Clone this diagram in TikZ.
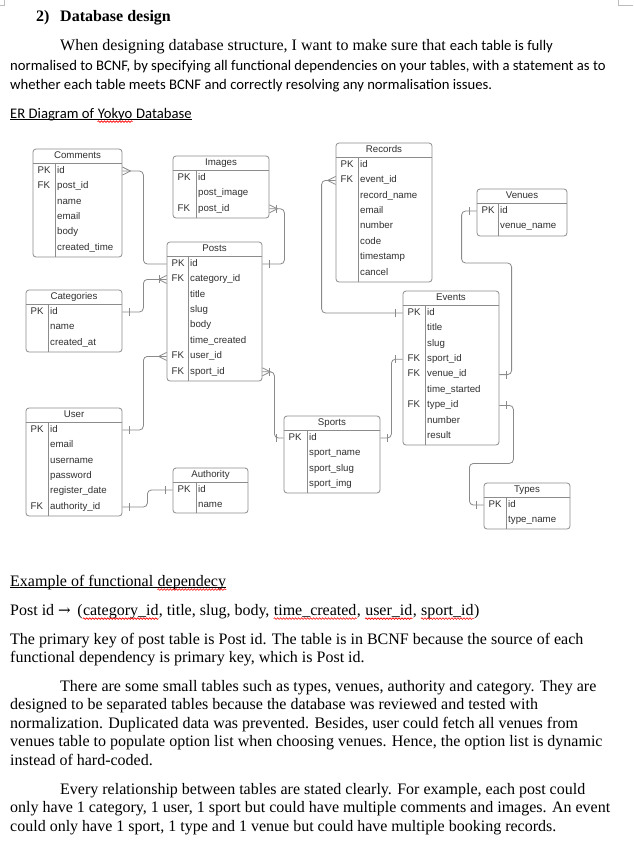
\documentclass[tikz,border=0pt]{standalone}
\usepackage{fontspec}
\setmainfont{Liberation Serif}
\newfontfamily\calibrifont{Carlito}
\newfontfamily\arialfont{Liberation Sans}
\newfontfamily\arrowfont{DejaVu Serif}
\usetikzlibrary{fit,decorations.pathmorphing}
\definecolor{boxgray}{HTML}{8C8C8C}
\definecolor{linegray}{HTML}{8A8A8A}
\definecolor{txtgray}{HTML}{303030}
\definecolor{markgray}{HTML}{BDBDBD}

\begin{document}
\begin{tikzpicture}
[x=1pt,y=-1pt,
  tableBox/.style={draw=boxgray,line width=0.8pt,rounded corners=3pt,inner sep=0pt},%
  tableLine/.style={draw=boxgray,line width=0.8pt},%
  titleText/.style={font=\arialfont\fontsize{9.7}{11}\selectfont,text=txtgray,inner sep=0pt,anchor=mid},%
  fieldText/.style={font=\arialfont\fontsize{9.7}{11}\selectfont,text=txtgray,inner sep=0pt,anchor=mid west},%
  relLine/.style={draw=linegray,line width=0.8pt,rounded corners=4pt},%
  bodyText/.style={font=\fontsize{16}{18.4}\selectfont,inner sep=0pt,anchor=base west},%
  wordText/.style={font=\calibrifont\fontsize{14.67}{17.6}\selectfont,inner sep=0pt,anchor=base west},%
  redWave/.style={draw=red,line width=0.6pt,decorate,decoration={snake,amplitude=0.8pt,segment length=3pt}},%
  crowFoot/.pic={\draw[draw=linegray,line width=0.8pt] (0,-4) -- (8,0) -- (0,4);},%
  oneBar/.pic={\draw[draw=linegray,line width=0.8pt] (7,-4) -- (7,4);}]
\fill[white] (0,0) rectangle (633,868);
\useasboundingbox (0,0) rectangle (633,868);
%% page corner marks
\draw[draw=markgray,line width=0.6pt] (0,5) -- (4,5) -- (4,0);
\draw[draw=markgray,line width=0.6pt] (633,5) -- (618,5) -- (618,0);
%% heading and intro
\node[bodyText,font=\bfseries\fontsize{16}{18.4}\selectfont] (headnum) at (36,21) {2)};
\node[bodyText,font=\bfseries\fontsize{16}{18.4}\selectfont] (heading) at (60,21) {Database design};
\node[bodyText] (intro1) at (60,50) {When designing database structure, I want to make sure that {\calibrifont\fontsize{14.67}{17.6}\selectfont each table is fully}};
\node[wordText] (intro2) at (10,70) {normalised to BCNF, by specifying all functional dependencies on your tables, with a statement as to};
\node[wordText] (intro3) at (10,89) {whether each table meets BCNF and correctly resolving any normalisation issues.};
\node[wordText] (ertitle) at (10,118) {ER Diagram of};
\node[wordText] (erword) at ([xshift=3.3pt]ertitle.base east) {Yokyo};
\node[wordText] (erend) at ([xshift=3.3pt]erword.base east) {Database};
\draw[line width=0.8pt] ([yshift=-1.8pt]ertitle.base west) -- ([yshift=-1.8pt]erend.base east);
\draw[redWave] ([yshift=-3.6pt]erword.base west) -- ([yshift=-3.6pt]erword.base east);
%% tables: name/left/top/right/separator/bottom/title/rows
\foreach \tname/\tleft/\ttop/\tright/\tsep/\tbot/\ttitle/\trows in {%
  comments/33/149/122/55/257/Comments/{PK/id,FK/post\_id,/name,/email,/body,/created\_time},%
  images/173/156/269/196/218/Images/{PK/id,/post\_image,FK/post\_id},%
  posts/167/242/262/188/381/Posts/{PK/id,FK/category\_id,/title,/slug,/body,/time\_created,FK/user\_id,FK/sport\_id},%
  records/336/143/432/358/282/Records/{PK/id,FK/event\_id,/record\_name,/email,/number,/code,/timestamp,/cancel},%
  venues/477/189/567/498/236/Venues/{PK/id,/venue\_name},%
  categories/26/290/122/48/352/Categories/{PK/id,/name,/created\_at},%
  events/403/291/499/425/445/Events/{PK/id,/title,/slug,FK/sport\_id,FK/venue\_id,/time\_started,FK/type\_id,/number,/result},%
  user/26/408/122/48/516/User/{PK/id,/email,/username,/password,/register\_date,FK/authority\_id},%
  authority/173/468/248/196/513/Authority/{PK/id,/name},%
  sports/284/416/380/307/493/Sports/{PK/id,/sport\_name,/sport\_slug,/sport\_img},%
  types/484/483/570/506/529/Types/{PK/id,/type\_name}}
{
  \node[tableBox,fit={(\tleft,\ttop) (\tright,\tbot)}] (\tname) {};
  \draw[tableLine] (\tleft,\ttop+14) -- (\tright,\ttop+14);
  \draw[tableLine] (\tsep,\ttop+14) -- (\tsep,\tbot);
  \node[titleText] (\tname-title) at ([yshift=-7.5pt]\tname.north) {\ttitle};
  \foreach \k/\f [count=\i] in \trows
  {
    \node[fieldText] (\tname-k\i) at (\tleft+4.5,\ttop+6.6+15.4*\i) {\k};
    \node[fieldText] (\tname-\i) at (\tsep+2,\ttop+6.6+15.4*\i) {\f};
  }
}
%% relationships
\draw[relLine] (comments.east |- comments-1.mid) -- ++(21,0) |- (posts.west |- posts-1.mid);
\pic at (comments.east |- comments-1.mid) {crowFoot};
\draw[relLine] (images.east |- images-3.mid) -- ++(15,0) |- (posts.east |- posts-1.mid);
\pic at (images.east |- images-3.mid) {crowFoot};
\pic at (images.east |- images-3.mid) {oneBar};
\pic at (posts.east |- posts-1.mid) {oneBar};
\draw[relLine] (categories.east |- categories-1.mid) -- ++(21,0) |- (posts.west |- posts-2.mid);
\pic at (categories.east |- categories-1.mid) {oneBar};
\pic[xscale=-1] at (posts.west |- posts-2.mid) {crowFoot};
\pic[xscale=-1] at (posts.west |- posts-2.mid) {oneBar};
\draw[relLine] (user.east |- user-1.mid) -- ++(21,0) |- (posts.west |- posts-7.mid);
\pic at (user.east |- user-1.mid) {oneBar};
\pic[xscale=-1] at (posts.west |- posts-7.mid) {crowFoot};
\draw[relLine] (posts.east |- posts-8.mid) -- ++(12,0) |- (sports.west |- sports-1.mid);
\pic at (posts.east |- posts-8.mid) {crowFoot};
\pic at (posts.east |- posts-8.mid) {oneBar};
\pic[xscale=-1] at (sports.west |- sports-1.mid) {oneBar};
\draw[relLine] (sports.east |- sports-1.mid) -- ++(11,0) |- (events.west |- events-4.mid);
\pic at (sports.east |- sports-1.mid) {oneBar};
\pic[xscale=-1] at (events.west |- events-4.mid) {oneBar};
\draw[relLine] (records.west |- records-2.mid) -- ++(-14,0) |- (events.west |- events-1.mid);
\pic[xscale=-1] at (records.west |- records-2.mid) {crowFoot};
\pic[xscale=-1] at (events.west |- events-1.mid) {oneBar};
\draw[relLine] (venues.west |- venues-1.mid) -- ++(-15,0) |- ++(50,52) |- (events.east |- events-5.mid);
\pic[xscale=-1] at (venues.west |- venues-1.mid) {oneBar};
\pic at (events.east |- events-5.mid) {oneBar};
\draw[relLine] (events.east |- events-7.mid) -- ++(14,0) |- ++(-44,58) |- (types.west |- types-1.mid);
\pic at (events.east |- events-7.mid) {oneBar};
\pic[xscale=-1] at (types.west |- types-1.mid) {oneBar};
\draw[relLine] (user.east |- user-6.mid) -- ++(25,0) |- (authority.west |- authority-1.mid);
\pic at (user.east |- user-6.mid) {oneBar};
\pic[xscale=-1] at (authority.west |- authority-1.mid) {oneBar};
%% text below the diagram
\node[bodyText] (extitle) at (10,586) {Example of functional};
\node[bodyText] (exword) at ([xshift=4pt]extitle.base east) {dependecy};
\draw[line width=0.8pt] ([yshift=-1.8pt]extitle.base west) -- ([yshift=-1.8pt]exword.base east);
\draw[redWave] ([yshift=-3.6pt]exword.base west) -- ([yshift=-3.6pt]exword.base east);
\node[bodyText] (fd1) at (10,615) {Post id {\arrowfont\fontsize{15}{15}\selectfont →}\hspace{2.5pt} (};
\node[bodyText] (fdcat) at (fd1.base east) {category\_id};
\node[bodyText] (fd2) at (fdcat.base east) {, title, slug, body,};
\node[bodyText] (fdtime) at ([xshift=4pt]fd2.base east) {time\_created};
\node[bodyText] (fd3) at (fdtime.base east) {,};
\node[bodyText] (fduser) at ([xshift=4pt]fd3.base east) {user\_id};
\node[bodyText] (fd4) at (fduser.base east) {,};
\node[bodyText] (fdsport) at ([xshift=4pt]fd4.base east) {sport\_id};
\node[bodyText] (fd5) at (fdsport.base east) {)};
\foreach \w in {fdcat,fdtime,fduser,fdsport}
  \draw[redWave] ([yshift=-3.6pt]\w.base west) -- ([yshift=-3.6pt]\w.base east);
\node[bodyText] (para1a) at (10,644) {The primary key of post table is Post id. The table is in BCNF because the source of each};
\node[bodyText] (para1b) at (10,662.4) {functional dependency is primary key, which is Post id.};
\node[bodyText] (para2a) at (60,691.5) {There are some small tables such as types, venues, authority and category. They are};
\node[bodyText] (para2b) at (10,709.9) {designed to be separated tables because the database was reviewed and tested with};
\node[bodyText] (para2c) at (10,728.3) {normalization. Duplicated data was prevented. Besides, user could fetch all venues from};
\node[bodyText] (para2d) at (10,746.7) {venues table to populate option list when choosing venues. Hence, the option list is dynamic};
\node[bodyText] (para2e) at (10,765.1) {instead of hard-coded.};
\node[bodyText] (para3a) at (60,794.2) {Every relationship between tables are stated clearly. For example, each post could};
\node[bodyText] (para3b) at (10,812.6) {only have 1 category, 1 user, 1 sport but could have multiple comments and images. An event};
\node[bodyText] (para3c) at (10,831) {could only have 1 sport, 1 type and 1 venue but could have multiple booking records.};
\end{tikzpicture}
\end{document}
